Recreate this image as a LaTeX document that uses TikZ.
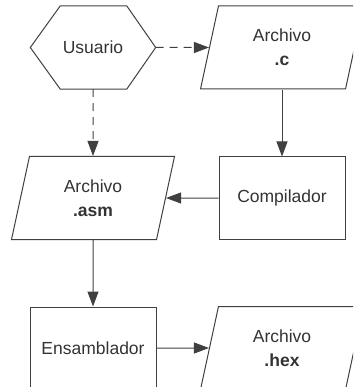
\documentclass[tikz,border=0pt]{standalone}
\usepackage{fontspec}
\setmainfont{Liberation Sans}
\usetikzlibrary{shapes.geometric,arrows.meta}
\definecolor{ink}{HTML}{404040}
\definecolor{txt}{HTML}{333333}
\tikzset{
  base/.style={font=\fontsize{17.5}{24}\selectfont, text=txt, align=center, inner sep=0pt},
  procbox/.style={base, draw=ink, line width=1pt, minimum width=126pt, minimum height=82pt},
  databox/.style={base, draw=ink, line width=1pt, trapezium, trapezium left angle=64,
    trapezium right angle=116, trapezium stretches body,
    minimum width=163pt, minimum height=83pt},
  termbox/.style={base, minimum width=125pt, minimum height=83pt},
  flow/.style={draw=ink, line width=1pt, -{Triangle[length=15pt,width=11pt]}},
  optflow/.style={flow, dash pattern=on 8pt off 6pt},
}
\begin{document}
\begin{tikzpicture}[x=1pt,y=-1pt]
  \useasboundingbox (0,0) rectangle (353,387);
  \clip (0,0) rectangle (353,387);
  % terminal: user (hexagon outline drawn around an invisible node)
  \node[termbox] (usr) at (93,47.5) {Usuario};
  \draw[ink, line width=1pt]
    (usr.west) -- ([xshift=30pt]usr.north west) -- ([xshift=-29pt]usr.north east)
    -- (usr.east) -- ([xshift=-29pt]usr.south east) -- ([xshift=30pt]usr.south west) -- cycle;
  % files and tools
  \node[databox] (c)   at (282,47.5) {Archivo\\\textbf{.c}};
  \node[procbox] (comp) at (282,198) {Compilador};
  \node[databox] (asm) at (93,198) {Archivo\\\textbf{.asm}};
  \node[procbox] (ens) at (93,348) {Ensamblador};
  \node[databox] (hex) at (282,348) {Archivo\\\textbf{.hex}};
  % connectors
  \draw[optflow] (usr) -- (c);
  \draw[optflow] (usr) -- (asm);
  \draw[flow] (c) -- (comp);
  \draw[flow] (comp) -- (asm);
  \draw[flow] (asm) -- (ens);
  \draw[flow] (ens) -- (hex);
\end{tikzpicture}
\end{document}
